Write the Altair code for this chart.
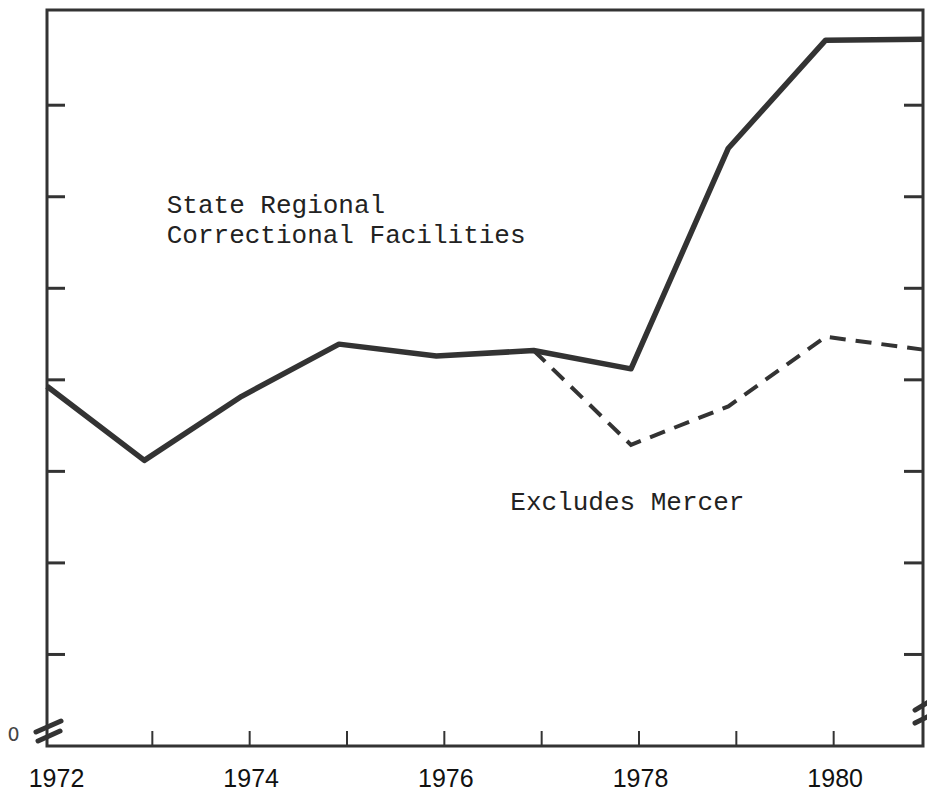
import altair as alt
import pandas as pd

years = [1972, 1973, 1974, 1975, 1976, 1977, 1978, 1979, 1980, 1981]
state_regional = [3.93, 3.12, 3.82, 4.39, 4.26, 4.32, 4.12, 6.53, 7.71, 7.72]
excl_years = [1977, 1978, 1979, 1980, 1981]
excludes_mercer = [4.32, 3.29, 3.71, 4.47, 4.33]

tick_years = [1973, 1974, 1975, 1976, 1977, 1978, 1979, 1980]
label_years = [1972, 1974, 1976, 1978, 1980]
y_ticks = [1, 2, 3, 4, 5, 6, 7]

ann_text = ["State Regional", "Correctional Facilities", "Excludes Mercer"]
ann_x = [1973.23, 1973.23, 1976.76]
ann_y = [5.91, 5.58, 2.67]

# axis break marks (year, value) segments
brk_x = [1971.887, 1971.908, 1980.918, 1980.918]
brk_x2 = [1972.144, 1972.134, 1981.123, 1981.123]
brk_y = [0.153, 0.055, 0.393, 0.251]
brk_y2 = [0.273, 0.164, 0.524, 0.36]

W, H = 876, 736
INK = "#333333"

xs = alt.Scale(domain=[1972, 1981], nice=False, zero=False)
ys = alt.Scale(domain=[0, 8.04], nice=False, zero=False)

solid_df = pd.DataFrame({"year": years, "value": state_regional})
dash_df = pd.DataFrame({"year": excl_years, "value": excludes_mercer})
ticks_df = pd.DataFrame({"year": tick_years})
yt_df = pd.DataFrame({"v": y_ticks})
ann_df = pd.DataFrame({"t": ann_text, "x": ann_x, "y": ann_y})
brk_df = pd.DataFrame({"x": brk_x, "x2": brk_x2, "y": brk_y, "y2": brk_y2})

xaxis = alt.Axis(values=label_years, format="d", tickSize=0, domain=False, grid=False,
                 labelFont="Liberation Sans Narrow, Liberation Sans, sans-serif",
                 labelFontSize=25, labelColor="#111", labelPadding=20, labelOffset=9,
                 labelFlush=False, labelOverlap=False, title=None)
yaxis = alt.Axis(values=[0], format="d", tickSize=0, domain=False, grid=False,
                 labelFont="DejaVu Sans", labelFontSize=19, labelColor="#444",
                 labelPadding=28, labelOffset=-12, labelFlush=False, title=None)

solid = alt.Chart(solid_df).mark_line(color=INK, strokeWidth=5.5, strokeJoin="round").encode(
    x=alt.X("year:Q", scale=xs, axis=xaxis),
    y=alt.Y("value:Q", scale=ys, axis=yaxis),
)
dashed = alt.Chart(dash_df).mark_line(color=INK, strokeWidth=4, strokeDash=[16, 10]).encode(
    x=alt.X("year:Q", scale=xs),
    y=alt.Y("value:Q", scale=ys),
)
bticks = alt.Chart(ticks_df).mark_rule(color=INK, strokeWidth=2, xOffset=8).encode(
    x=alt.X("year:Q", scale=xs), y=alt.value(H), y2=alt.value(H - 15)
)
lticks = alt.Chart(yt_df).mark_rule(color=INK, strokeWidth=3).encode(
    y=alt.Y("v:Q", scale=ys), x=alt.value(0), x2=alt.value(18)
)
rticks = alt.Chart(yt_df).mark_rule(color=INK, strokeWidth=3).encode(
    y=alt.Y("v:Q", scale=ys), x=alt.value(W - 19), x2=alt.value(W)
)
breaks = alt.Chart(brk_df).mark_rule(color=INK, strokeWidth=5, strokeCap="round").encode(
    x=alt.X("x:Q", scale=xs), x2="x2:Q", y=alt.Y("y:Q", scale=ys), y2="y2:Q"
)
ann = alt.Chart(ann_df).mark_text(font="Liberation Mono", fontSize=26, color="#222",
                                  align="left", baseline="middle").encode(
    x=alt.X("x:Q", scale=xs), y=alt.Y("y:Q", scale=ys), text="t:N"
)

chart = alt.layer(solid, dashed, bticks, lticks, rticks, breaks, ann).properties(
    width=W, height=H,
    autosize=alt.AutoSizeParams(type="none"),
    padding={"left": 39, "top": 2, "right": 4, "bottom": 46},
    background="white",
).configure_view(stroke=INK, strokeWidth=3)

chart.save("out.html", embed_options={"renderer": "svg", "actions": False})
